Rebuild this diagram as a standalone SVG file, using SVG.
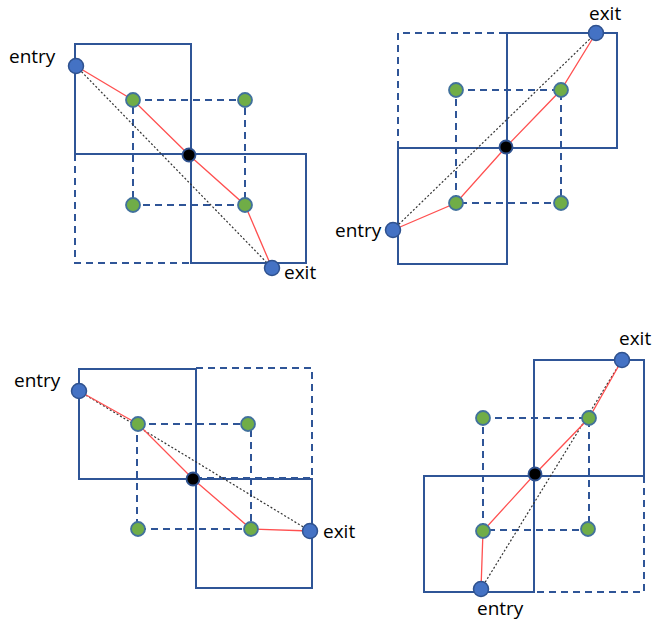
<svg xmlns="http://www.w3.org/2000/svg" width="658" height="625" viewBox="0 0 658 625">
<style>
.sq{fill:none;stroke:#2F5597;stroke-width:2}
.ds{fill:none;stroke:#2F5597;stroke-width:2;stroke-dasharray:7,5}
.red{fill:none;stroke:#FF5050;stroke-width:1.3}
.dot{fill:none;stroke:#333;stroke-width:1.2;stroke-dasharray:2,2}
.b{fill:#4472C4;stroke:#2F528F;stroke-width:1.5}
.g{fill:#70AD47;stroke:#41719C;stroke-width:1.8}
.k{fill:#000;stroke:#2F528F;stroke-width:1.8}
text{font-family:"Open Sans","Liberation Sans",sans-serif;font-size:19px;fill:#000}
</style>
<rect width="658" height="625" fill="#fff"/>
<!-- Quadrant 1 -->
<g id="q1-grid">
<rect class="sq" x="75" y="44" width="116" height="110"/>
<rect class="sq" x="191" y="154" width="115" height="109"/>
<polyline class="ds" points="75,154 75,263 191,263"/>
<rect class="ds" x="133" y="100" width="112" height="105"/>
</g>
<g id="q1-connectors">
<line class="dot" x1="76" y1="66" x2="272" y2="268"/>
<polyline class="red" points="76,66 133,100 189,155 245,205 272,268"/>
</g>
<g id="q1-g1"><circle class="g" cx="133" cy="100" r="7"/></g>
<g id="q1-g2"><circle class="g" cx="245" cy="100" r="7"/></g>
<g id="q1-g3"><circle class="g" cx="133" cy="205" r="7"/></g>
<g id="q1-g4"><circle class="g" cx="245" cy="205" r="7"/></g>
<g id="q1-center"><circle class="k" cx="189" cy="155" r="6.5"/></g>
<g id="q1-entry"><circle class="b" cx="76" cy="66" r="7.5"/><text x="9" y="63">entry</text></g>
<g id="q1-exit"><circle class="b" cx="272" cy="268" r="7.5"/><text x="284" y="279">exit</text></g>

<!-- Quadrant 2 -->
<g id="q2-grid">
<rect class="sq" x="507" y="33" width="110" height="115"/>
<rect class="sq" x="398" y="148" width="109" height="116"/>
<polyline class="ds" points="398,148 398,33 507,33"/>
<rect class="ds" x="456" y="90" width="105" height="113"/>
</g>
<g id="q2-connectors">
<line class="dot" x1="393" y1="230" x2="596" y2="33"/>
<polyline class="red" points="393,230 456,203 506,147 561,90 596,33"/>
</g>
<g id="q2-g1"><circle class="g" cx="456" cy="90" r="7"/></g>
<g id="q2-g2"><circle class="g" cx="561" cy="90" r="7"/></g>
<g id="q2-g3"><circle class="g" cx="456" cy="203" r="7"/></g>
<g id="q2-g4"><circle class="g" cx="561" cy="203" r="7"/></g>
<g id="q2-center"><circle class="k" cx="506" cy="147" r="6.5"/></g>
<g id="q2-entry"><circle class="b" cx="393" cy="230" r="7.5"/><text x="335" y="237">entry</text></g>
<g id="q2-exit"><circle class="b" cx="596" cy="33" r="7.5"/><text x="589" y="20">exit</text></g>

<!-- Quadrant 3 -->
<g id="q3-grid">
<rect class="sq" x="79" y="369" width="117" height="110"/>
<rect class="ds" x="196" y="368" width="116" height="110"/>
<rect class="sq" x="196" y="479" width="116" height="109"/>
<rect class="ds" x="137" y="424" width="114" height="105"/>
</g>
<g id="q3-connectors">
<line class="dot" x1="79" y1="391" x2="310" y2="531"/>
<polyline class="red" points="79,391 138,424 193,479 251,529 310,531"/>
</g>
<g id="q3-g1"><circle class="g" cx="138" cy="424" r="7"/></g>
<g id="q3-g2"><circle class="g" cx="248" cy="424" r="7"/></g>
<g id="q3-g3"><circle class="g" cx="138" cy="529" r="7"/></g>
<g id="q3-g4"><circle class="g" cx="251" cy="529" r="7"/></g>
<g id="q3-center"><circle class="k" cx="193" cy="479" r="6.5"/></g>
<g id="q3-entry"><circle class="b" cx="79" cy="391" r="7.5"/><text x="14" y="387">entry</text></g>
<g id="q3-exit"><circle class="b" cx="310" cy="531" r="7.5"/><text x="323" y="538">exit</text></g>

<!-- Quadrant 4 -->
<g id="q4-grid">
<rect class="sq" x="534" y="360" width="110" height="116"/>
<rect class="sq" x="424" y="476" width="110" height="116"/>
<polyline class="ds" points="644,476 644,592 534,592"/>
<rect class="ds" x="483" y="418" width="106" height="112"/>
</g>
<g id="q4-connectors">
<line class="dot" x1="481" y1="589" x2="622" y2="360"/>
<polyline class="red" points="481,589 483,531 535,474 589,418 622,360"/>
</g>
<g id="q4-g1"><circle class="g" cx="483" cy="418" r="7"/></g>
<g id="q4-g2"><circle class="g" cx="589" cy="418" r="7"/></g>
<g id="q4-g3"><circle class="g" cx="483" cy="531" r="7"/></g>
<g id="q4-g4"><circle class="g" cx="588" cy="529" r="7"/></g>
<g id="q4-center"><circle class="k" cx="535" cy="474" r="6.5"/></g>
<g id="q4-entry"><circle class="b" cx="481" cy="589" r="7.5"/><text x="477" y="615">entry</text></g>
<g id="q4-exit"><circle class="b" cx="622" cy="360" r="7.5"/><text x="619" y="345">exit</text></g>
</svg>
